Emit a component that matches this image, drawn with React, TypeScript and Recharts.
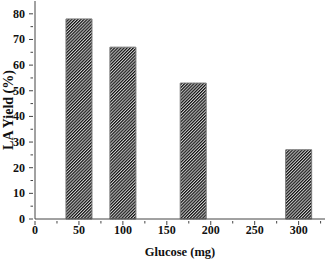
import React from 'react';
import { BarChart, Bar, XAxis, YAxis } from 'recharts';

const glucose = [50, 100, 180, 300];
const laYield = [78, 67, 53, 27];
const xTicks = [0, 25, 50, 75, 100, 125, 150, 175, 200, 225, 250, 275, 300, 325];
const yTicks = [0, 5, 10, 15, 20, 25, 30, 35, 40, 45, 50, 55, 60, 65, 70, 75, 80];

const data = glucose.map((g, i) => ({ glucose: g, yield: laYield[i] }));

const FONT = '"Liberation Serif", "Times New Roman", serif';
const AXIS = '#444';

const XTick = (props: any) => {
    const { x, y, payload } = props;
    const major = payload.value % 50 === 0;
    return (
        <g>
            <line x1={x} x2={x} y1={y} y2={y + (major ? 4 : 2.5)} stroke={AXIS} />
            {major && payload.value <= 300 && (
                <text x={x} y={y + 13} textAnchor="middle" fontFamily={FONT} fontWeight="bold" fontSize={12} fill="#111">
                    {payload.value}
                </text>
            )}
        </g>
    );
};

const YTick = (props: any) => {
    const { x, y, payload } = props;
    const major = payload.value % 10 === 0;
    return (
        <g>
            <line x1={x - (major ? 4 : 2.5)} x2={x} y1={y} y2={y} stroke={AXIS} />
            {major && (
                <text x={x - 8} y={y + 4} textAnchor="end" fontFamily={FONT} fontWeight="bold" fontSize={12} fill="#111">
                    {payload.value}
                </text>
            )}
        </g>
    );
};

const YLabel = (props: any) => {
    const { viewBox } = props;
    const cx = 8;
    const cy = viewBox.y + viewBox.height / 2;
    return (
        <text
            x={cx}
            y={cy}
            transform={`rotate(-90, ${cx}, ${cy})`}
            textAnchor="middle"
            dominantBaseline="central"
            fontFamily={FONT}
            fontWeight="bold"
            fontSize={14}
            fill="#111"
        >
            LA Yield (%)
        </text>
    );
};

export default function App() {
    return (
        <div style={{ position: 'absolute', left: 0, top: 0, background: '#fff' }}>
            <BarChart width={331} height={260} data={data} margin={{ top: 1, right: 6, left: 0, bottom: 0 }}>
                <defs>
                    <pattern id="hatch" patternUnits="userSpaceOnUse" width={2.2} height={2.2} patternTransform="rotate(45)">
                        <rect width={2.2} height={2.2} fill="#d0d0d0" />
                        <line x1={0.6} y1={0} x2={0.6} y2={2.2} stroke="#111" strokeWidth={1.2} />
                    </pattern>
                </defs>
                <XAxis
                    dataKey="glucose"
                    type="number"
                    domain={[0, 330]}
                    ticks={xTicks}
                    interval={0}
                    height={41}
                    stroke={AXIS}
                    tickLine={false}
                    tickSize={0}
                    tick={<XTick />}
                    label={{ value: 'Glucose (mg)', position: 'insideBottom', offset: 4, style: { fontFamily: FONT, fontWeight: 'bold', fontSize: 12.5, fill: '#111' } }}
                />
                <XAxis xAxisId="top" orientation="top" type="number" domain={[0, 330]} height={0} tick={false} tickLine={false} stroke={AXIS} />
                <YAxis
                    type="number"
                    domain={[0, 85]}
                    ticks={yTicks}
                    interval={0}
                    width={35}
                    stroke={AXIS}
                    tickLine={false}
                    tickSize={0}
                    tick={<YTick />}
                    label={<YLabel />}
                />
                <YAxis yAxisId="right" orientation="right" type="number" domain={[0, 85]} width={0} tick={false} tickLine={false} stroke="#666" strokeWidth={2} />
                <Bar dataKey="yield" barSize={26} fill="url(#hatch)" stroke="#777" strokeWidth={1} isAnimationActive={false} />
            </BarChart>
        </div>
    );
}
